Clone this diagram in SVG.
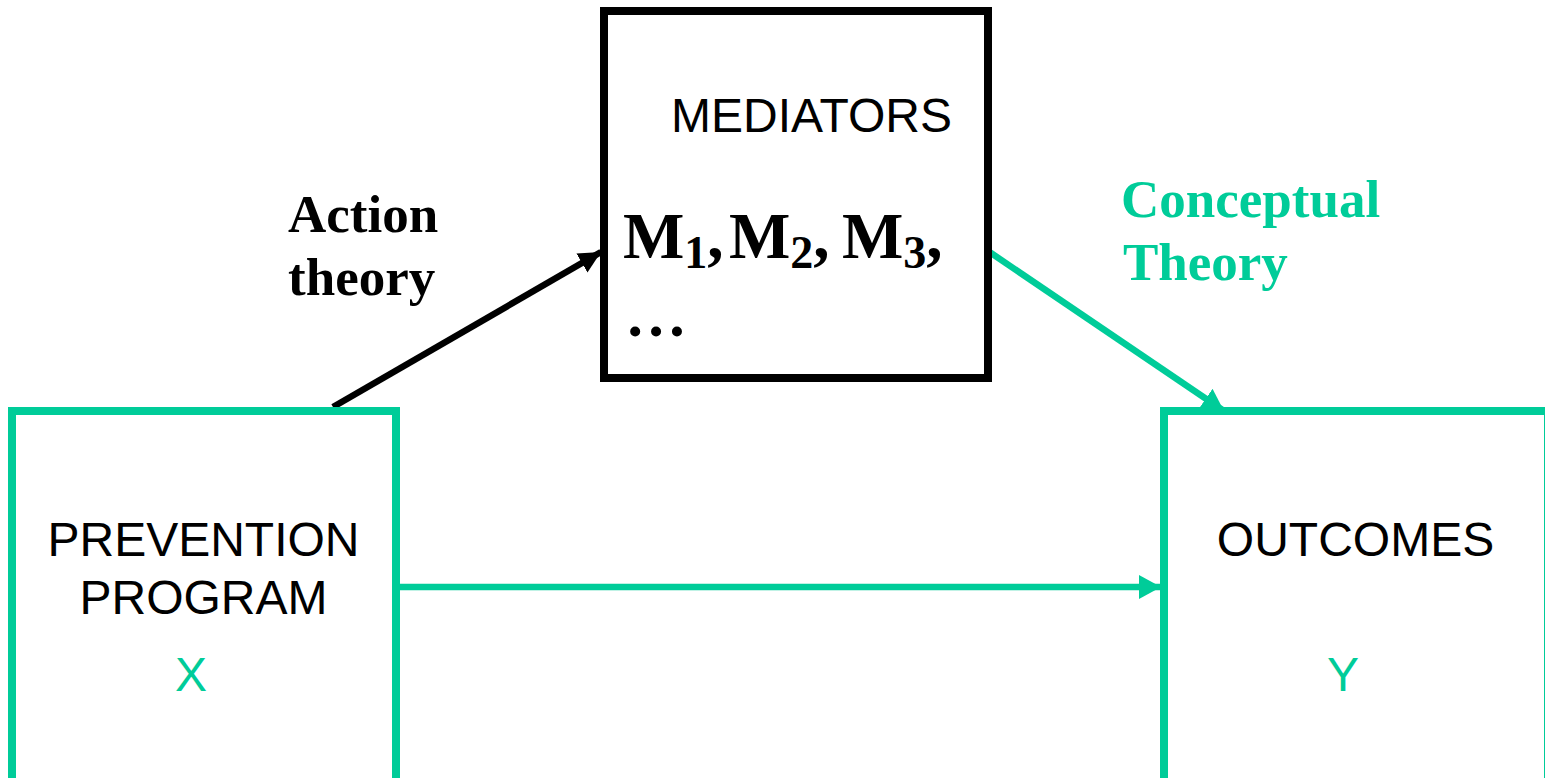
<svg xmlns="http://www.w3.org/2000/svg" width="1545" height="778" viewBox="0 0 1545 778">
  <style>
    .box { fill: #FFFFFF; stroke-width: 8; }
    .green { stroke: #00CC99; }
    .black { stroke: #000000; }
    .sans { font-family: "Liberation Sans", Arial, sans-serif; font-size: 48px; fill: #000000; }
    .serif { font-family: "Liberation Serif", "Times New Roman", serif; font-weight: bold; }
    .lbl { font-size: 53px; }
    .gfill { fill: #00CC99; }
    .edge { fill: none; stroke-width: 6.5; }
  </style>
  <defs>
    <marker id="headBlack" markerUnits="userSpaceOnUse" markerWidth="24" markerHeight="24" viewBox="0 0 24 24" refX="22" refY="12" orient="auto">
      <path d="M0,1 L22,12 L0,23 Z" fill="#000000"/>
    </marker>
    <marker id="headGreen" markerUnits="userSpaceOnUse" markerWidth="24" markerHeight="26" viewBox="0 0 24 26" refX="22" refY="13" orient="auto">
      <path d="M0,1 L22,13 L0,25 Z" fill="#00CC99"/>
    </marker>
  </defs>

  <rect width="1545" height="778" fill="#FFFFFF"/>

  <!-- connectors -->
  <g id="connectors">
    <line class="edge black" x1="333" y1="407" x2="601" y2="252" marker-end="url(#headBlack)"/>
    <line class="edge green" x1="988" y1="251" x2="1224" y2="411" marker-end="url(#headGreen)"/>
    <line class="edge green" x1="399" y1="587" x2="1161" y2="587" marker-end="url(#headGreen)"/>
  </g>

  <!-- mediators -->
  <g id="mediators">
    <rect class="box black" x="604" y="11" width="384" height="367"/>
    <text class="sans" x="671" y="132">MEDIATORS</text>
    <text class="serif" font-size="65" y="258">
      <tspan x="623">M</tspan><tspan font-size="46" dy="10">1</tspan><tspan dy="-10">,</tspan>
      <tspan x="729">M</tspan><tspan font-size="46" dy="10">2</tspan><tspan dy="-10">,</tspan>
      <tspan x="842">M</tspan><tspan font-size="46" dy="10">3</tspan><tspan dy="-10">,</tspan>
    </text>
    <text class="serif" font-size="62" x="625" y="336">…</text>
  </g>

  <!-- prevention program -->
  <g id="prevention">
    <rect class="box green" x="12" y="411" width="384" height="372"/>
    <text class="sans" x="203.5" y="556" text-anchor="middle">PREVENTION</text>
    <text class="sans" x="203.5" y="614" text-anchor="middle">PROGRAM</text>
    <text class="sans gfill" x="191" y="691" text-anchor="middle">X</text>
  </g>

  <!-- outcomes -->
  <g id="outcomes">
    <rect class="box green" x="1164" y="411" width="384" height="372"/>
    <text class="sans" x="1355.5" y="556" text-anchor="middle">OUTCOMES</text>
    <text class="sans gfill" x="1343" y="691" text-anchor="middle">Y</text>
  </g>

  <!-- edge labels -->
  <g id="label-action">
    <text class="serif lbl" x="288" y="232">Action</text>
    <text class="serif lbl" x="288" y="295">theory</text>
  </g>
  <g id="label-conceptual">
    <text class="serif lbl gfill" x="1121" y="217">Conceptual</text>
    <text class="serif lbl gfill" x="1123" y="280">Theory</text>
  </g>
</svg>
